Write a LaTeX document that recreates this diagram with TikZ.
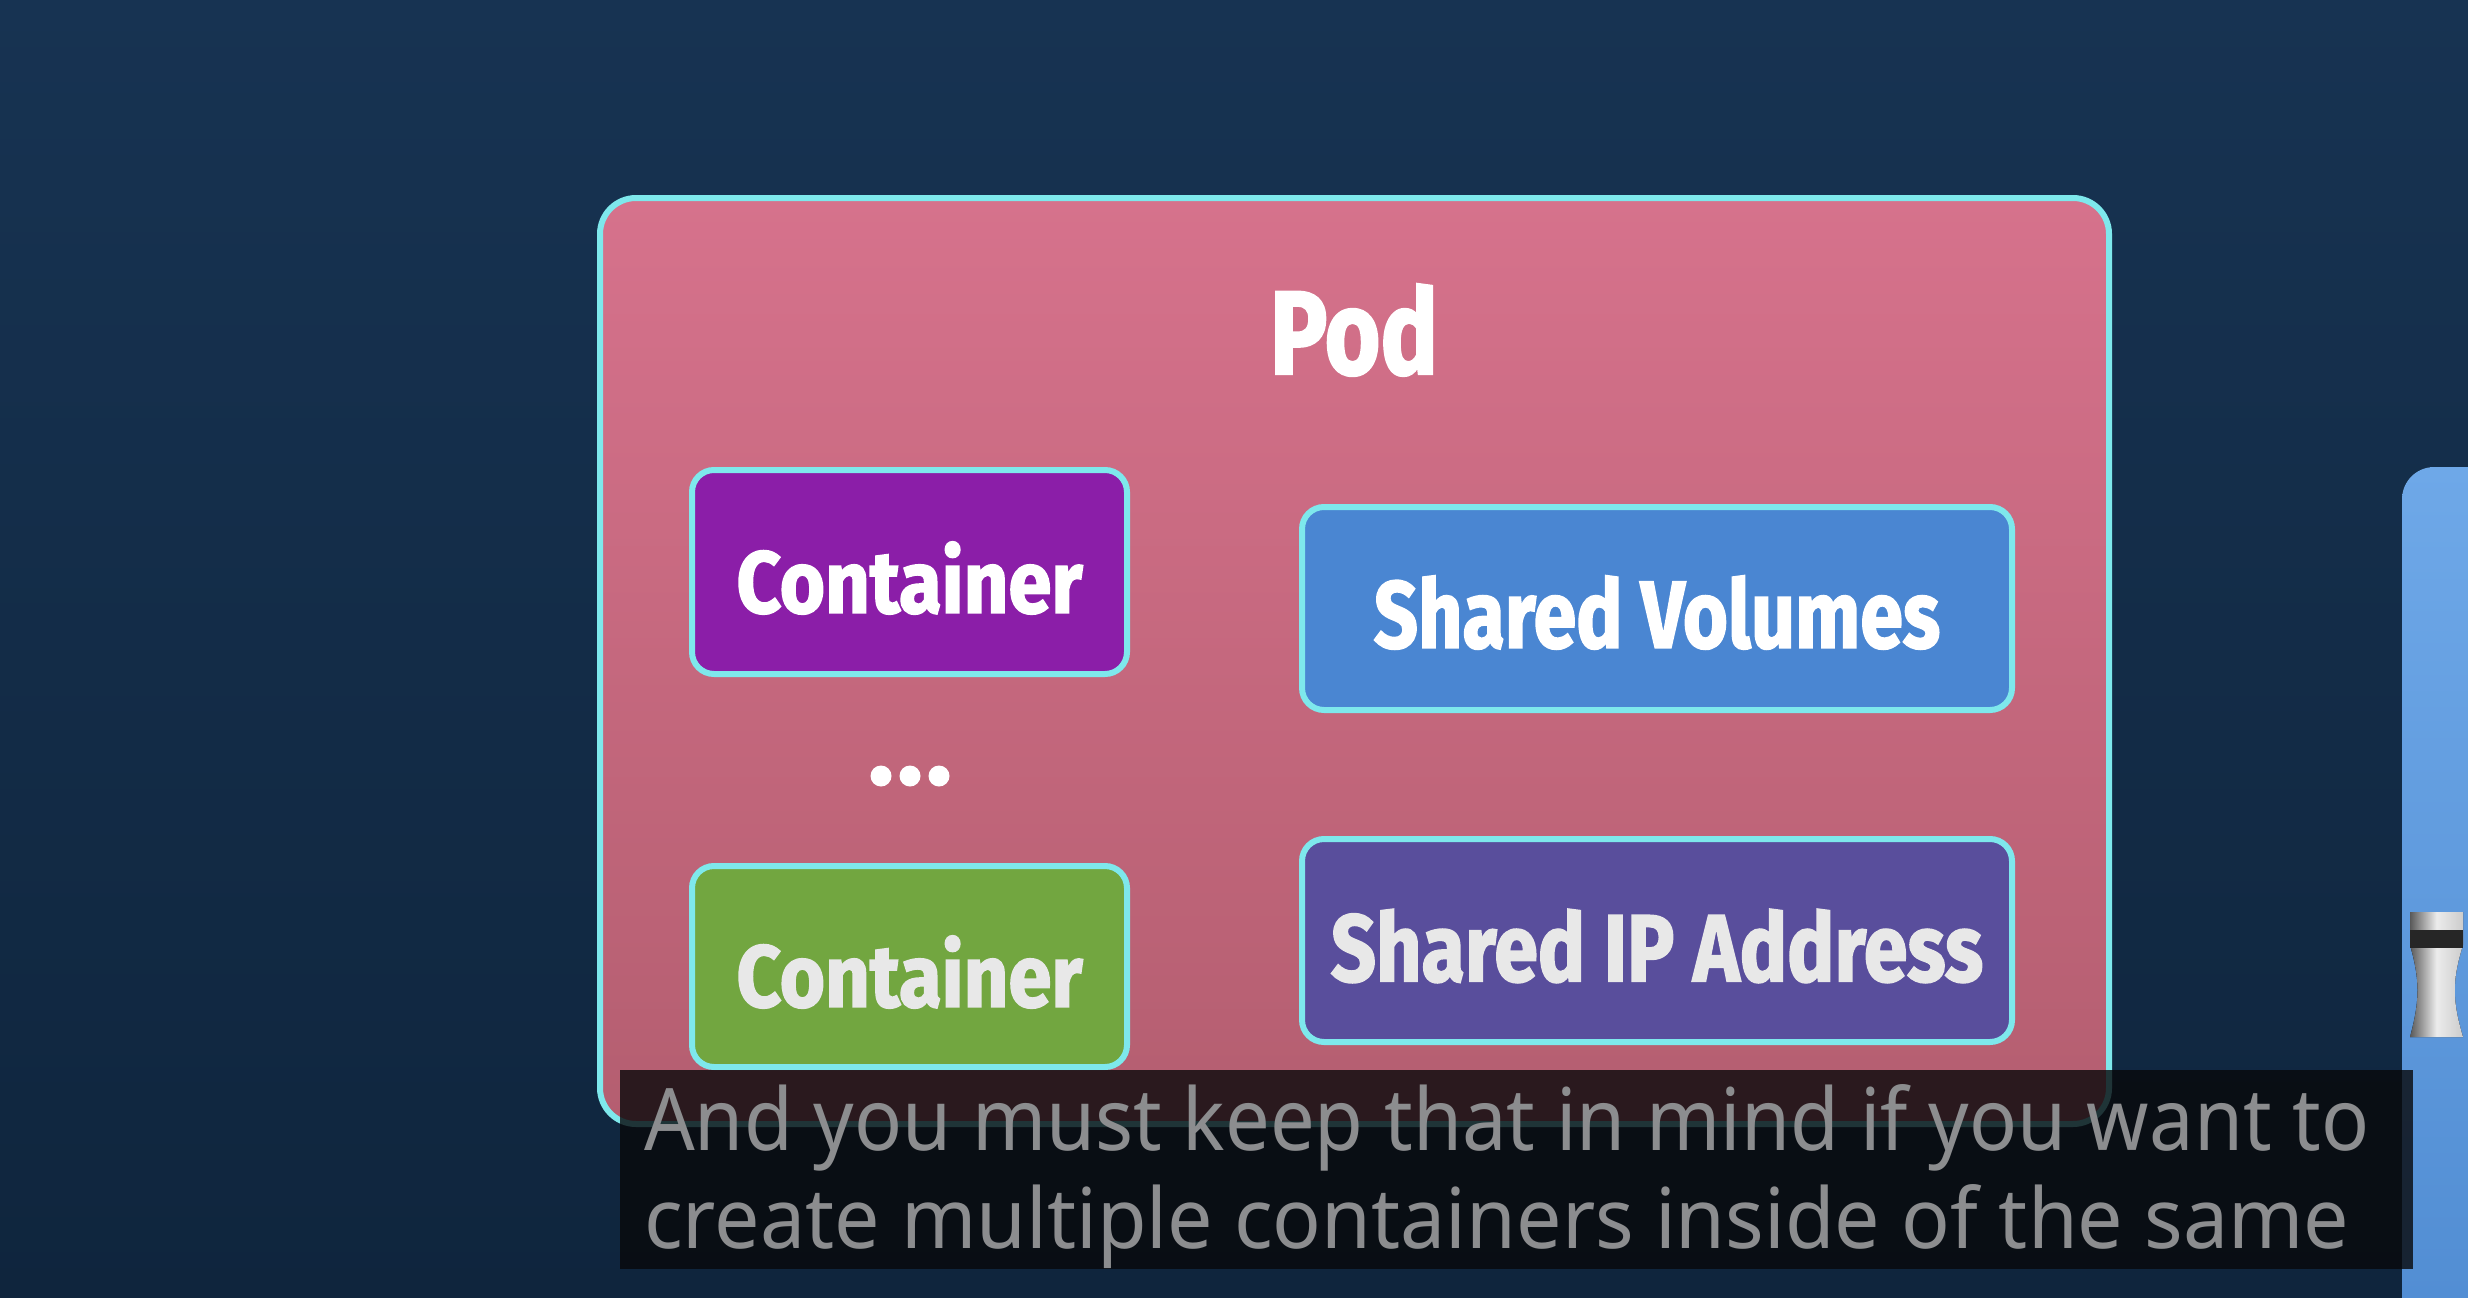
\documentclass[tikz,border=0pt]{standalone}
\usepackage{fontspec}
\usepackage{graphicx}
\setmainfont{Noto Sans}
\newfontfamily\condfont[FakeBold=2]{Fira Sans}
\definecolor{bgtop}{RGB}{23,51,82}
\definecolor{bgbot}{RGB}{15,37,61}
\definecolor{cyanb}{RGB}{126,232,236}
\definecolor{podtop}{RGB}{214,114,140}
\definecolor{podbot}{RGB}{180,94,112}
\definecolor{purp}{RGB}{139,30,168}
\definecolor{greenc}{RGB}{114,166,64}
\definecolor{bluev}{RGB}{74,134,210}
\definecolor{ipc}{RGB}{89,78,156}
\definecolor{subbg}{RGB}{8,8,10}
\definecolor{subtxt}{RGB}{140,141,143}
\definecolor{sidetop}{RGB}{110,168,232}
\definecolor{sidebot}{RGB}{80,140,210}
\definecolor{offwhite}{RGB}{232,232,232}
\tikzset{
  innerbox/.style={draw=cyanb, line width=6pt, rounded corners=22pt, inner sep=0pt, align=center},
  boxtext/.style={font=\condfont\bfseries},
  subline/.style={anchor=base west, inner sep=0pt, text=subtxt, font=\fontsize{60}{72}\selectfont}
}
\begin{document}
\begin{tikzpicture}[x=1pt,y=-1pt]
\useasboundingbox (0,0) rectangle (2468,1298);
\clip (0,0) rectangle (2468,1298);
% background
\fill[top color=bgtop, bottom color=bgbot] (0,0) rectangle (2468,1298);
% partial element at right edge
\fill[rounded corners=32pt, top color=sidetop, bottom color=sidebot] (2402,467) rectangle (2540,1360);
\fill[left color=gray!70!black, right color=gray!40, middle color=gray!15]
  (2410,912) -- (2463,912) -- (2463,945) .. controls (2452,980) and (2452,1000) .. (2463,1037)
  -- (2410,1037) .. controls (2420,1000) and (2420,980) .. (2410,945) -- cycle;
\fill[black!85] (2410,930) rectangle (2463,948);
% pod
\node[draw=cyanb, line width=6pt, rounded corners=36pt, top color=podtop, bottom color=podbot,
      minimum width=1509pt, minimum height=926pt, inner sep=0pt] (pod) at (1354.5,661) {};
\node[boxtext, text=white, inner sep=0pt] (podtitle) at (1354,330) {\resizebox{168pt}{90pt}{Pod}};
% containers
\node[innerbox, fill=purp, text=white, minimum width=435pt, minimum height=204pt, text height=83pt]
  (c1) at (909.5,572) {\resizebox{346pt}{71pt}{\condfont\bfseries Container}};
\node[innerbox, fill=greenc, text=offwhite, minimum width=435pt, minimum height=201pt, text height=82pt]
  (c2) at (909.5,966.5) {\resizebox{346pt}{71pt}{\condfont\bfseries Container}};
% dots
\fill[white] (881,776) circle (10.5pt);
\fill[white] (910,776) circle (10.5pt);
\fill[white] (939,776) circle (10.5pt);
% shared resources
\node[innerbox, fill=bluev, text=white, minimum width=710pt, minimum height=203pt, text height=80pt]
  (sv) at (1657,608.5) {\resizebox{566pt}{72pt}{\condfont\bfseries Shared Volumes}};
\node[innerbox, fill=ipc, text=offwhite, minimum width=710pt, minimum height=203pt, text height=83pt]
  (ip) at (1657,940.5) {\resizebox{652pt}{72pt}{\condfont\bfseries Shared IP Address}};
% subtitle
\fill[subbg, opacity=0.8] (620,1070) rectangle (2413,1269);
\node[subline] (s1) at (644,1150) {\resizebox{1725pt}{66pt}{And you must keep that in mind if you want to}};
\node[subline] (s2) at (644,1248) {\resizebox{1705pt}{64pt}{create multiple containers inside of the same}};
\end{tikzpicture}
\end{document}
